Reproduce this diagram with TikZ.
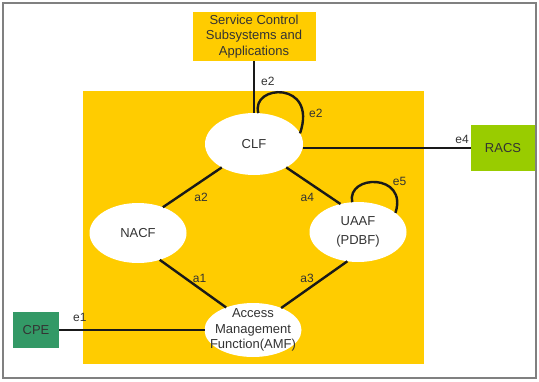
\documentclass[tikz,border=0pt]{standalone}
\usepackage{fontspec}
\setmainfont{Liberation Sans}
\usetikzlibrary{shapes.geometric}
\definecolor{amber}{HTML}{FFCC00}
\definecolor{racsgreen}{HTML}{99CC00}
\definecolor{cpegreen}{HTML}{339966}
\definecolor{inkgray}{HTML}{333333}
\begin{document}
\begin{tikzpicture}[x=1pt,y=-1pt,
		func/.style={ellipse,fill=white,inner xsep=-20pt,inner ysep=-10pt,outer sep=0pt,
			minimum width=97pt,minimum height=60pt,align=center,text=inkgray,
			font=\fontsize{13}{15.5}\selectfont},
		blk/.style={rectangle,inner sep=0pt,outer sep=0pt,align=center,text=inkgray,
			font=\fontsize{13}{15.5}\selectfont},
		link/.style={line width=2.4pt,draw=black!90},
		tag/.style={inner sep=1pt,text=inkgray,font=\fontsize{12}{12}\selectfont}]
			\useasboundingbox (0,0) rectangle (539,381);
			\draw[gray,line width=2pt] (3,3) rectangle (536,378);
			\fill[amber] (83,91) rectangle (424,364);
			% outside blocks
			\node[blk,fill=amber,minimum width=123pt,minimum height=49pt] (scsa) at (254,36.5) {Service Control\\Subsystems and\\Applications};
			\node[blk,fill=racsgreen,minimum width=64pt,minimum height=46pt] (racs) at (503,148) {RACS};
			\node[blk,fill=cpegreen,minimum width=46pt,minimum height=36pt] (cpe) at (36,330) {CPE};
			% functions
			\node[func,minimum width=98pt,minimum height=62pt] (clf) at (254,144) {CLF};
			\node[func] (nacf) at (138,233) {NACF};
			\node[func] (uaaf) at (358,232) {UAAF\\[3pt](PDBF)};
			\node[func,minimum height=54pt] (amf) at (253,330) {Access\\Management\\Function(AMF)};
			% reference points
			\draw[link] (scsa.south) -- node[tag,pos=0.4,anchor=west,xshift=5pt] {e2} (clf.north);
			\draw[link] (clf.82) .. controls +(-8,-29) and +(18,-53) .. node[tag,pos=0.85,anchor=west,xshift=4pt] {e2} (clf.13);
			\draw[link] (clf.east |- racs.west) -- node[tag,pos=1,anchor=south east,yshift=2pt] {e4} (racs.west);
			\draw[link] (clf.216) -- node[tag,pos=0.74,anchor=west,xshift=14pt] {a2} (nacf.46);
			\draw[link] (clf.324) -- node[tag,pos=0.81,anchor=east,xshift=-14pt] {a4} (uaaf.122);
			\draw[link] (uaaf.101) .. controls +(-6,-28) and +(13,-40) .. node[tag,pos=0.7,anchor=south west] {e5} (uaaf.27);
			\draw[link] (nacf.309) -- node[tag,pos=0.39,anchor=west,xshift=5pt] {a1} (amf.140);
			\draw[link] (uaaf.250) -- node[tag,pos=0.36,anchor=east,xshift=-7.5pt] {a3} (amf.38);
			\draw[link] (cpe.east) -- node[tag,pos=0,anchor=south west,xshift=12pt,yshift=6pt] {e1} (amf.west);
		\end{tikzpicture}
\end{document}
